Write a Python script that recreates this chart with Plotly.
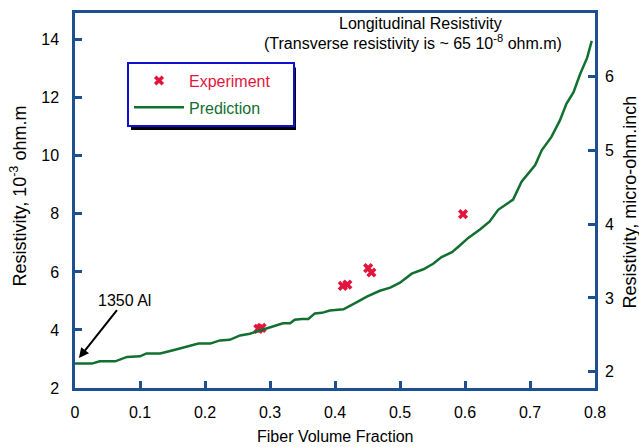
import plotly.graph_objects as go

# ---------------- data ----------------
fiber_fraction = [0, 0.026, 0.038, 0.062, 0.08, 0.1, 0.11, 0.131, 0.151, 0.172, 0.19, 0.208,
                  0.223, 0.238, 0.254, 0.269, 0.285, 0.305, 0.32, 0.331, 0.338, 0.349, 0.359,
                  0.369, 0.38, 0.392, 0.413, 0.433, 0.449, 0.469, 0.485, 0.5, 0.518, 0.536,
                  0.551, 0.564, 0.58, 0.592, 0.605, 0.623, 0.638, 0.651, 0.674, 0.687, 0.708,
                  0.718, 0.733, 0.746, 0.756, 0.767, 0.777, 0.788, 0.795]
predicted_resistivity = [2.84, 2.84, 2.92, 2.92, 3.07, 3.09, 3.19, 3.19, 3.30, 3.41, 3.53, 3.53,
                         3.64, 3.66, 3.81, 3.87, 3.98, 4.12, 4.23, 4.23, 4.35, 4.38, 4.38,
                         4.57, 4.59, 4.67, 4.71, 4.95, 5.15, 5.35, 5.46, 5.63, 5.94, 6.09,
                         6.28, 6.51, 6.68, 6.91, 7.17, 7.46, 7.74, 8.14, 8.49, 9.11, 9.68,
                         10.19, 10.65, 11.22, 11.79, 12.19, 12.81, 13.38, 13.96]

exp_fraction = [0.282, 0.287, 0.412, 0.419, 0.451, 0.456, 0.597]
exp_resistivity = [4.04, 4.07, 5.52, 5.56, 6.13, 5.98, 7.99]

x_ticks = [0, 0.1, 0.2, 0.3, 0.4, 0.5, 0.6, 0.7, 0.8]
y_ticks = [2, 4, 6, 8, 10, 12, 14]
y2_ticks = [2, 3, 4, 5, 6]

# ---------------- style ----------------
AXIS = "#1d4f91"
GREEN = "#11702f"
RED = "#e2163d"
FONT = "Liberation Sans, Arial, sans-serif"
NB = "\u00a0"

W, H = 639, 447
L, R, T, B = 75, 44, 10, 59
PW, PH = W - L - R, H - T - B


def px_x(p):
    return (p - L) / PW


def px_y(p):
    return (H - B - p) / PH


fig = go.Figure()

fig.add_trace(go.Scatter(
    x=exp_fraction, y=exp_resistivity, mode="markers",
    name='<span style="color:%s">Experiment</span>' % RED + NB * 4,
    marker=dict(symbol="x", size=9, color=RED, line=dict(width=0)),
    legendgroup="a",
))
fig.add_trace(go.Scatter(
    x=fiber_fraction, y=predicted_resistivity, mode="lines",
    name='<span style="color:%s">Prediction</span>' % GREEN,
    line=dict(color=GREEN, width=2.5),
    legendgroup="b",
))
# invisible trace to activate right axis
fig.add_trace(go.Scatter(x=[None], y=[None], yaxis="y2", showlegend=False))

axis_common = dict(
    showline=True, linecolor=AXIS, linewidth=2.5, ticks="inside", ticklen=7,
    tickwidth=2.5, tickcolor=AXIS, showgrid=False, zeroline=False,
    tickfont=dict(family=FONT, size=16, color="black"),
)

fig.update_layout(
    width=W, height=H,
    margin=dict(l=L, r=R, t=T, b=B),
    paper_bgcolor="white", plot_bgcolor="white",
    font=dict(family=FONT, size=16, color="black"),
    xaxis=dict(range=[0, 0.8], tickvals=x_ticks, ticktext=["0"] + [str(v) for v in x_ticks[1:]],
               mirror=True, ticklabelstandoff=8, **axis_common),
    yaxis=dict(range=[2, 14.92], tickvals=y_ticks, mirror=False, ticklabelstandoff=10,
               **axis_common),
    yaxis2=dict(range=[1.781, 6.855], tickvals=y2_ticks, overlaying="y", side="right",
                ticklabelstandoff=4, **axis_common),
    showlegend=True,
    legend=dict(
        x=px_x(127), y=px_y(59), xanchor="left", yanchor="top",
        bgcolor="white", bordercolor="#1010d0", borderwidth=2,
        font=dict(family=FONT, size=16),
        itemwidth=50, tracegroupgap=3, traceorder="grouped",
    ),
    shapes=[dict(type="rect", xref="paper", yref="paper",
                 x0=px_x(131), x1=px_x(296), y0=px_y(128), y1=px_y(65),
                 fillcolor="black", line=dict(width=0), layer="above")],
    annotations=[
        dict(x=0.006, y=3.03, xref="x", yref="y", text="1350 Al", showarrow=True,
             ax=46, ay=-58, arrowhead=2, arrowsize=1, arrowwidth=2, arrowcolor="black",
             font=dict(family=FONT, size=16, color="black")),
        dict(x=px_x(420), y=px_y(21), xref="paper", yref="paper", xanchor="center",
             yanchor="middle", showarrow=False,
             text="Longitudinal Resistivity",
             font=dict(family=FONT, size=16, color="black")),
        dict(x=px_x(413), y=px_y(39), xref="paper", yref="paper", xanchor="center",
             yanchor="middle", showarrow=False,
             text="(Transverse resistivity is ~ 65 10<sup>-8</sup> ohm.m)",
             font=dict(family=FONT, size=16, color="black")),
        dict(x=0.5, y=px_y(437), xref="paper", yref="paper", xanchor="center", yanchor="middle",
             showarrow=False,
             text="Fiber Volume Fraction", font=dict(family=FONT, size=16, color="black")),
        dict(x=px_x(19), y=px_y(195), xref="paper", yref="paper", xanchor="center",
             yanchor="middle", showarrow=False, textangle=-90,
             text="Resistivity, 10<sup>-3</sup> ohm.m",
             font=dict(family=FONT, size=18, color="black")),
        dict(x=px_x(630), y=px_y(201), xref="paper", yref="paper", xanchor="center",
             yanchor="middle", showarrow=False, textangle=-90,
             text="Resistivity, micro-ohm.inch",
             font=dict(family=FONT, size=18, color="black")),
    ],
)

fig.write_html("out.html")
